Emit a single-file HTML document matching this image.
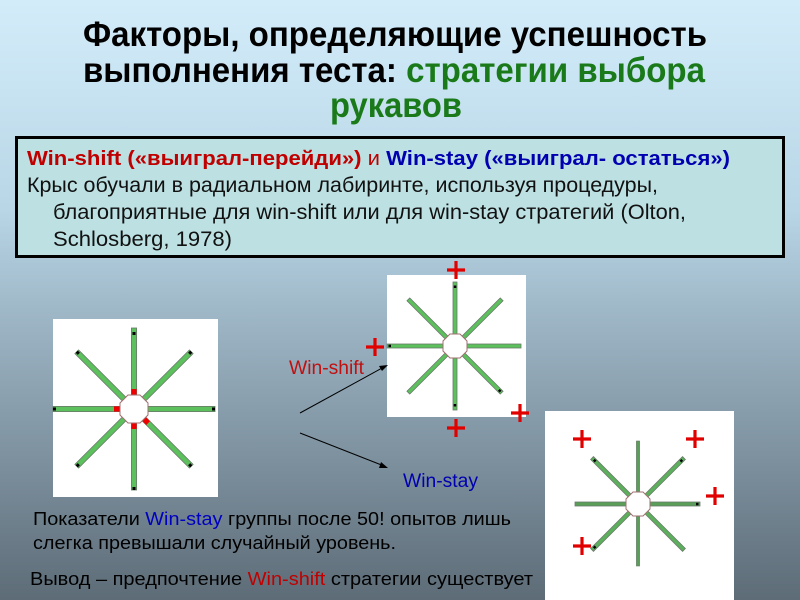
<!DOCTYPE html>
<html><head><meta charset="utf-8"><style>
html,body{margin:0;padding:0;width:800px;height:600px;overflow:hidden}
svg{display:block}
text{font-family:"Liberation Sans",sans-serif}
</style></head><body>
<svg width="800" height="600" xmlns="http://www.w3.org/2000/svg">
<defs>
<linearGradient id="bg" x1="0" y1="0" x2="0" y2="1">
<stop offset="0" stop-color="#d3ecfa"/>
<stop offset="0.35" stop-color="#b8d6e6"/>
<stop offset="0.55" stop-color="#9ab2c2"/>
<stop offset="1" stop-color="#5d6c77"/>
</linearGradient>
</defs>
<rect width="800" height="600" fill="url(#bg)"/>

<!-- title -->
<g font-weight="bold" font-size="35" fill="#000">
<text x="83" y="46" textLength="624" lengthAdjust="spacingAndGlyphs">Факторы, определяющие успешность</text>
<text x="83" y="82" textLength="622" lengthAdjust="spacingAndGlyphs">выполнения теста: <tspan fill="#1a7a1a">стратегии выбора</tspan></text>
<text x="330" y="117" textLength="132" lengthAdjust="spacingAndGlyphs" fill="#1a7a1a">рукавов</text>
</g>

<!-- box -->
<rect x="16.5" y="137.5" width="767" height="119" fill="#bde1e3" stroke="#000" stroke-width="3"/>
<text x="27" y="165" font-size="20" font-weight="bold" textLength="703" lengthAdjust="spacingAndGlyphs"><tspan fill="#c00000">Win-shift («выиграл-перейди»)</tspan><tspan fill="#c00000" font-weight="normal"> и </tspan><tspan fill="#0000b0">Win-stay («выиграл- остаться»)</tspan></text>
<g font-size="21" fill="#111">
<text x="27" y="192" textLength="631" lengthAdjust="spacingAndGlyphs">Крыс обучали в радиальном лабиринте, используя процедуры,</text>
<text x="53" y="219" textLength="633" lengthAdjust="spacingAndGlyphs">благоприятные для win-shift или для win-stay стратегий (Olton,</text>
<text x="53" y="246" textLength="179" lengthAdjust="spacingAndGlyphs">Schlosberg, 1978)</text>
</g>

<!-- maze 1 -->
<rect x="53" y="319" width="165" height="178" fill="#fff"/>
<g transform="translate(134,409)">
<g transform="rotate(0)"><rect x="12" y="-2.6" width="69" height="5.2" fill="#5cc05c" stroke="#6a7a6a" stroke-width="0.8"/><rect x="78" y="-1.5" width="3" height="3"/></g>
<g transform="rotate(45)"><rect x="12" y="-2.6" width="69" height="5.2" fill="#5cc05c" stroke="#6a7a6a" stroke-width="0.8"/><rect x="12" y="-2.6" width="8" height="5.2" fill="#e00"/><rect x="78" y="-1.5" width="3" height="3"/></g>
<g transform="rotate(90)"><rect x="12" y="-2.6" width="69" height="5.2" fill="#5cc05c" stroke="#6a7a6a" stroke-width="0.8"/><rect x="12" y="-2.6" width="8" height="5.2" fill="#e00"/><rect x="78" y="-1.5" width="3" height="3"/></g>
<g transform="rotate(135)"><rect x="12" y="-2.6" width="69" height="5.2" fill="#5cc05c" stroke="#6a7a6a" stroke-width="0.8"/><rect x="78" y="-1.5" width="3" height="3"/></g>
<g transform="rotate(180)"><rect x="12" y="-2.6" width="69" height="5.2" fill="#5cc05c" stroke="#6a7a6a" stroke-width="0.8"/><rect x="12" y="-2.6" width="8" height="5.2" fill="#e00"/><rect x="78" y="-1.5" width="3" height="3"/></g>
<g transform="rotate(225)"><rect x="12" y="-2.6" width="69" height="5.2" fill="#5cc05c" stroke="#6a7a6a" stroke-width="0.8"/><rect x="78" y="-1.5" width="3" height="3"/></g>
<g transform="rotate(270)"><rect x="12" y="-2.6" width="69" height="5.2" fill="#5cc05c" stroke="#6a7a6a" stroke-width="0.8"/><rect x="12" y="-2.6" width="8" height="5.2" fill="#e00"/><rect x="74" y="-1.5" width="3" height="3"/></g>
<g transform="rotate(315)"><rect x="12" y="-2.6" width="69" height="5.2" fill="#5cc05c" stroke="#6a7a6a" stroke-width="0.8"/><rect x="78" y="-1.5" width="3" height="3"/></g>
<polygon points="14,-6 14,6 6,14 -6,14 -14,6 -14,-6 -6,-14 6,-14" fill="#fff" stroke="#a07070" stroke-width="1"/>
</g>

<!-- maze 2 -->
<rect x="387" y="275" width="139" height="142" fill="#fff"/>
<g transform="translate(455,346)">
<g transform="rotate(0)"><rect x="10" y="-2" width="56" height="4" fill="#5cc05c" stroke="#6a7a6a" stroke-width="0.8"/></g>
<g transform="rotate(45)"><rect x="10" y="-2" width="56" height="4" fill="#5cc05c" stroke="#6a7a6a" stroke-width="0.8"/><rect x="62" y="-1.2" width="2.5" height="2.5"/></g>
<g transform="rotate(90)"><rect x="10" y="-2" width="54" height="4" fill="#5cc05c" stroke="#6a7a6a" stroke-width="0.8"/><rect x="58" y="-1.2" width="2.5" height="2.5"/></g>
<g transform="rotate(135)"><rect x="10" y="-2" width="56" height="4" fill="#5cc05c" stroke="#6a7a6a" stroke-width="0.8"/></g>
<g transform="rotate(180)"><rect x="10" y="-2" width="58" height="4" fill="#5cc05c" stroke="#6a7a6a" stroke-width="0.8"/><rect x="64" y="-1.2" width="2.5" height="2.5"/></g>
<g transform="rotate(225)"><rect x="10" y="-2" width="56" height="4" fill="#5cc05c" stroke="#6a7a6a" stroke-width="0.8"/></g>
<g transform="rotate(270)"><rect x="10" y="-2" width="54" height="4" fill="#5cc05c" stroke="#6a7a6a" stroke-width="0.8"/><rect x="58" y="-1.2" width="2.5" height="2.5"/></g>
<g transform="rotate(315)"><rect x="10" y="-2" width="56" height="4" fill="#5cc05c" stroke="#6a7a6a" stroke-width="0.8"/></g>
<polygon points="12,-5 12,5 5,12 -5,12 -12,5 -12,-5 -5,-12 5,-12" fill="#fff" stroke="#a07070" stroke-width="1"/>
</g>

<!-- maze 3 -->
<rect x="545" y="411" width="189" height="189" fill="#fff"/>
<g transform="translate(638,504)">
<g transform="rotate(0)"><rect x="10" y="-2" width="52" height="4" fill="#5a9e5a" stroke="#6a7a6a" stroke-width="0.8"/><rect x="58" y="-1.2" width="2.5" height="2.5"/></g>
<g transform="rotate(45)"><rect x="10" y="-2" width="55" height="4" fill="#5cb05c" stroke="#6a7a6a" stroke-width="0.8"/></g>
<g transform="rotate(90)"><rect x="10" y="-1.6" width="52" height="3.2" fill="#5a9e5a" stroke="#6a7a6a" stroke-width="0.6"/></g>
<g transform="rotate(135)"><rect x="10" y="-2" width="55" height="4" fill="#5cb05c" stroke="#6a7a6a" stroke-width="0.8"/><rect x="60" y="-1.2" width="2.5" height="2.5"/></g>
<g transform="rotate(180)"><rect x="10" y="-2" width="53" height="4" fill="#5a9e5a" stroke="#6a7a6a" stroke-width="0.8"/></g>
<g transform="rotate(225)"><rect x="10" y="-2" width="55" height="4" fill="#5cb05c" stroke="#6a7a6a" stroke-width="0.8"/><rect x="60" y="-1.2" width="2.5" height="2.5"/></g>
<g transform="rotate(270)"><rect x="10" y="-1.6" width="53" height="3.2" fill="#5a9e5a" stroke="#6a7a6a" stroke-width="0.6"/></g>
<g transform="rotate(315)"><rect x="10" y="-2" width="55" height="4" fill="#5cb05c" stroke="#6a7a6a" stroke-width="0.8"/><rect x="60" y="-1.2" width="2.5" height="2.5"/></g>
<polygon points="12,-5 12,5 5,12 -5,12 -12,5 -12,-5 -5,-12 5,-12" fill="#fff" stroke="#a07070" stroke-width="1"/>
</g>

<!-- pluses -->
<g stroke="#e00000" stroke-width="3.2">
<path d="M447,270h18M456,261v18"/>
<path d="M366,347h18M375,338v18"/>
<path d="M511,413h18M520,404v18"/>
<path d="M447,428h18M456,419v18"/>
<path d="M573,439h18M582,430v18"/>
<path d="M686,439h18M695,430v18"/>
<path d="M706,496h18M715,487v18"/>
<path d="M573,546h18M582,537v18"/>
</g>

<!-- arrows -->
<g stroke="#000" stroke-width="1">
<line x1="300" y1="413" x2="384" y2="367"/>
<line x1="300" y1="433" x2="384" y2="466"/>
</g>
<polygon points="388,365 379,366 382,371" fill="#000"/>
<polygon points="388,468 381,462 379,468" fill="#000"/>
<text x="289" y="374" font-size="19" fill="#c01010" textLength="75" lengthAdjust="spacingAndGlyphs">Win-shift</text>
<text x="403" y="487" font-size="19" fill="#0000b0" textLength="75" lengthAdjust="spacingAndGlyphs">Win-stay</text>

<!-- bottom text -->
<g font-size="18" fill="#000">
<text x="33" y="525" textLength="478" lengthAdjust="spacingAndGlyphs">Показатели <tspan fill="#0000c0">Win-stay</tspan> группы после 50! опытов лишь</text>
<text x="33" y="549" textLength="363" lengthAdjust="spacingAndGlyphs">слегка превышали случайный уровень.</text>
<text x="30" y="585" textLength="503" lengthAdjust="spacingAndGlyphs">Вывод – предпочтение <tspan fill="#c00000">Win-shift</tspan> стратегии существует</text>
</g>
</svg>
</body></html>
